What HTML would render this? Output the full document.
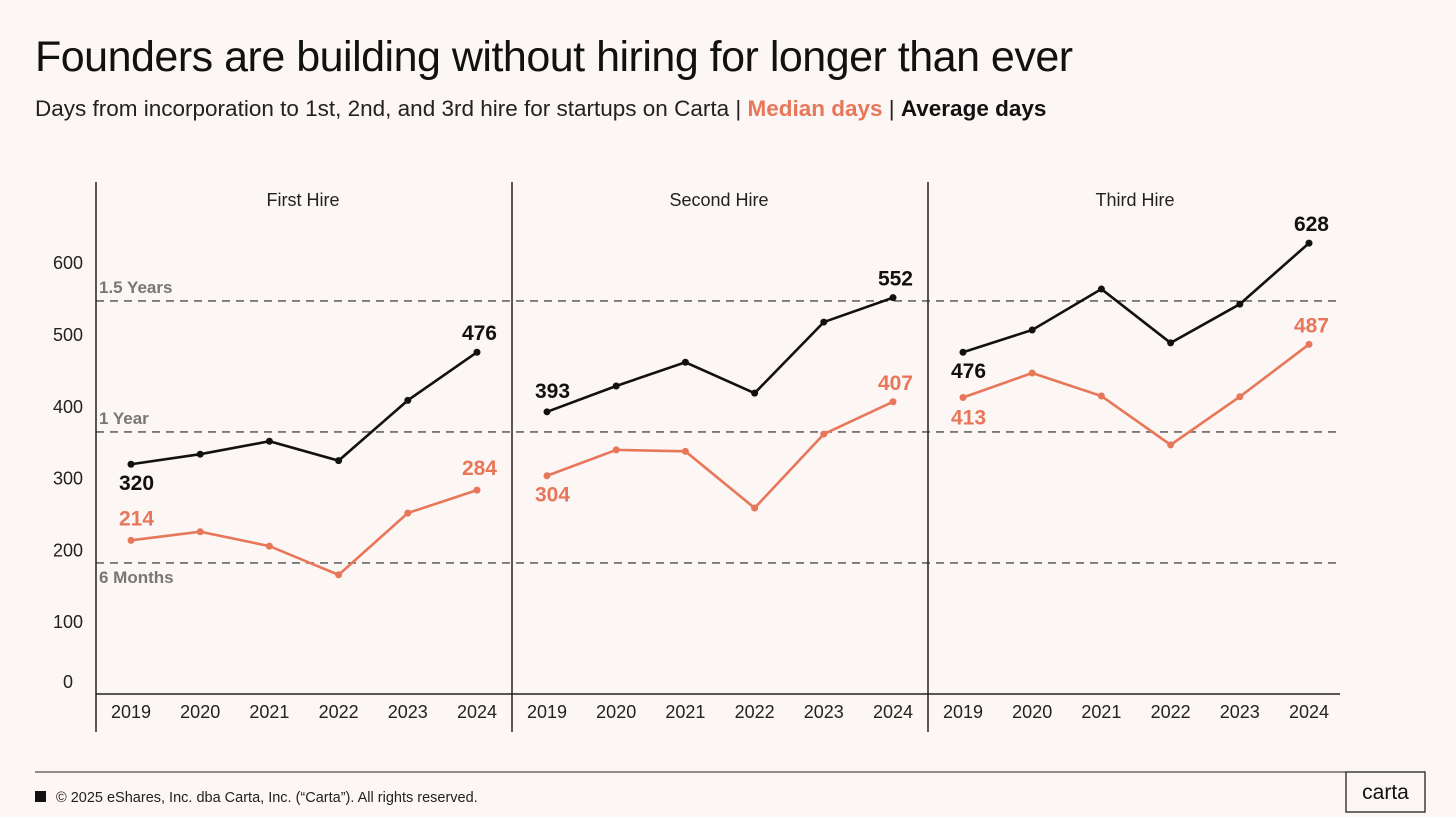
<!DOCTYPE html>
<html><head><meta charset="utf-8">
<style>
body{margin:0;width:1456px;height:817px;background:#fcf6f4;font-family:"Liberation Sans",sans-serif;overflow:hidden;position:relative}
h1{position:absolute;left:35px;top:33px;margin:0;font-size:43px;font-weight:500;color:#111;letter-spacing:-0.5px}
.sub{position:absolute;left:35px;top:96px;font-size:22.5px;color:#222}
svg{position:absolute;left:0;top:0}
</style></head><body>
<h1>Founders are building without hiring for longer than ever</h1>
<div class="sub">Days from incorporation to 1st, 2nd, and 3rd hire for startups on Carta | <b style="color:#e8775a">Median days</b> | <b style="color:#111">Average days</b></div>
<svg id="c" width="1456" height="817"></svg>
<script>
const years=["2019","2020","2021","2022","2023","2024"];
const panels=["First Hire","Second Hire","Third Hire"];
const avg1=[320,334,352,325,409,476];
const med1=[214,226,206,166,252,284];
const avg2=[393,429,462,419,518,552];
const med2=[304,340,338,259,362,407];
const avg3=[476,507,564,489,543,628];
const med3=[413,447,415,347,414,487];
const yTicks=[0,100,200,300,400,500,600];
const refLines=[182.5,365,547.5];
const refLabels=["6 Months","1 Year","1.5 Years"];
const avgs=[avg1,avg2,avg3], meds=[med1,med2,med3];
const NS="http://www.w3.org/2000/svg";
const svg=document.getElementById('c');
const y=v=>694-v*0.718;
const px=[96,512,928];
const x=(p,i)=>px[p]+35+i*69.2;
function el(t,a,txt){const e=document.createElementNS(NS,t);for(const k in a)e.setAttribute(k,a[k]);if(txt!==undefined)e.textContent=txt;svg.appendChild(e);return e;}
yTicks.forEach(v=>{const t=el('text',{x:68,y:(v===0?y(v)-12:y(v))+6,'text-anchor':'middle','font-size':18,fill:'#222'},v);
});
refLines.forEach((v,i)=>{const l=el('line',{x1:96,x2:1340,y1:y(v),y2:y(v),stroke:'#666','stroke-width':1.6,'stroke-dasharray':'8 6'});

const ty=i===0?y(v)+20:y(v)-8;
const t=el('text',{x:99,y:ty,'font-size':17,'font-weight':'bold',fill:'#777'},refLabels[i]);
});
const ax=el('line',{x1:96,x2:1340,y1:694,y2:694,stroke:'#222','stroke-width':1.5});

const offs=[[26,-12,-15,-15],[-14,-12,26,-12],[26,-12,27,-12]];
panels.forEach((name,p)=>{
 const vl=el('line',{x1:px[p],x2:px[p],y1:182,y2:732,stroke:'#222','stroke-width':1.5});
 
 const pt=el('text',{x:px[p]+207,y:206,'text-anchor':'middle','font-size':18,fill:'#222'},name);
 
 years.forEach((yr,i)=>{const t=el('text',{x:x(p,i),y:718,'text-anchor':'middle','font-size':18,fill:'#222'},yr);
  });
 [[meds[p],'#e8775a','median'],[avgs[p],'#111','average']].forEach(([d,c,n],s)=>{
  const pl=el('polyline',{points:d.map((v,i)=>x(p,i)+','+y(v)).join(' '),fill:'none',stroke:c,'stroke-width':2.6});
  
  d.forEach((v,i)=>{const ci=el('circle',{cx:x(p,i),cy:y(v),r:3.5,fill:c});
   });
  const o=offs[p], isAvg=s===1;
  [[0,isAvg?o[0]:o[2]],[5,isAvg?o[1]:o[3]]].forEach(([i,dy])=>{
   const anchor=i===5?'end':'start';const dx=i===5?20:-12;
   const t=el('text',{x:x(p,i)+dx,y:y(d[i])+dy,'text-anchor':anchor,'font-size':21,'font-weight':'bold',fill:c},d[i]);
   });
 });
});
const fl=el('line',{x1:35,x2:1370,y1:772,y2:772,stroke:'#222','stroke-width':1});

const sq=el('rect',{x:35,y:791,width:11,height:11,fill:'#111'});

const ft=el('text',{x:56,y:802,'font-size':14.5,fill:'#222'},'© 2025 eShares, Inc. dba Carta, Inc. (“Carta”). All rights reserved.');

const bx=el('rect',{x:1346,y:772,width:79,height:40,fill:'none',stroke:'#222','stroke-width':1.3});

const lg=el('text',{x:1385.5,y:799,'text-anchor':'middle','font-size':21,fill:'#111'},'carta');

</script>
</body></html>
